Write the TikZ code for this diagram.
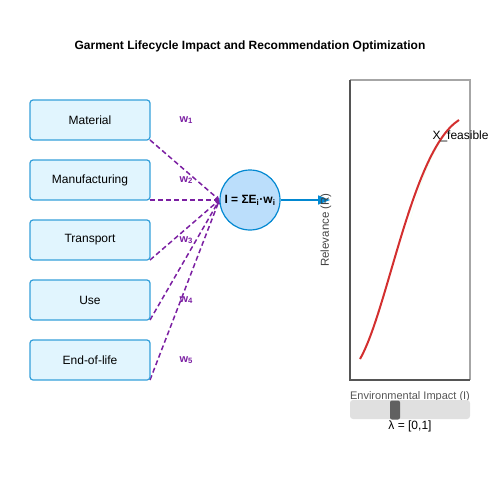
\documentclass[tikz,border=0pt]{standalone}
\usepackage{fontspec}
\setmainfont{Liberation Sans}
\usepackage{tikz}
\usetikzlibrary{shapes,calc,shapes.geometric,arrows.meta,positioning,backgrounds}
\definecolor{stageblue}{HTML}{0288D1}
\definecolor{stagefill}{HTML}{E1F5FE}
\definecolor{hubfill}{HTML}{BBDEFB}
\definecolor{wpurple}{HTML}{7B1FA2}
\definecolor{curvered}{HTML}{D32F2F}
\definecolor{axisgray}{HTML}{555555}

\tikzset{
  stagebox/.style={rectangle, draw=stageblue!80, line width=1.2pt, fill=stagefill, rounded corners=3pt,
    minimum width=120pt, minimum height=40pt, outer sep=0pt, font=\fontsize{12}{14}\selectfont},
  weightlabel/.style={text=wpurple, font=\bfseries\fontsize{11}{13}\selectfont},
  weightline/.style={wpurple, dashed, line width=1.5pt, dash pattern=on 5pt off 3pt, -{Triangle[length=4pt,width=4pt]}},
}

\begin{document}
\begin{tikzpicture}[x=1pt, y=-1pt]
    \useasboundingbox (0,0) rectangle (500,500);

    % Title
    \node[font=\bfseries\fontsize{12}{14}\selectfont] (title) at (250,46) {Garment Lifecycle Impact and Recommendation Optimization};

    % Stages
    \node[stagebox] (material) at (90,120) {Material};
    \node[stagebox, below=20pt of material] (manufacturing) {Manufacturing};
    \node[stagebox, below=20pt of manufacturing] (transport) {Transport};
    \node[stagebox, below=20pt of transport] (use) {Use};
    \node[stagebox, below=20pt of use] (eol) {End-of-life};

    % Weights
    \node[weightlabel, right=26pt of material.east] (w1) {w\textsubscript{1}};
    \node[weightlabel, right=26pt of manufacturing.east] (w2) {w\textsubscript{2}};
    \node[weightlabel, right=26pt of transport.east] (w3) {w\textsubscript{3}};
    \node[weightlabel, right=26pt of use.east] (w4) {w\textsubscript{4}};
    \node[weightlabel, right=26pt of eol.east] (w5) {w\textsubscript{5}};

    % Aggregation
    \node[circle, draw=stageblue, line width=1.2pt, fill=hubfill, minimum size=60pt, inner sep=0pt,
      font=\bfseries\fontsize{12}{14}\selectfont] (hub) at (250,200) {I = ΣE\textsubscript{i}·w\textsubscript{i}};

    \begin{scope}[on background layer]
      \foreach \s in {material, manufacturing, transport, use, eol}
        \draw[weightline] (\s.south east) -- (hub.west);
    \end{scope}

    % Trade-off plot
    \coordinate (plotsw) at (350,380);
    \coordinate (plotne) at (470,80);
    \draw[black!35, line width=1.2pt] (plotsw -| plotne) -- (plotne) -- (plotsw |- plotne);
    \draw[axisgray, line width=1.5pt] (plotsw |- plotne) -- (plotsw) -- (plotsw -| plotne);
    \coordinate (front) at (330,200);
    \draw[stageblue, line width=1.5pt, -{Triangle[length=12pt,width=9pt]}] (hub.east) -- (front);

    \fill[green!40!white, opacity=0.15] (405,240) .. controls (418,190) and (430,155) .. (446,134) -- (440,140) .. controls (425,165) and (415,200) .. (405,240) -- cycle;
    \draw[curvered, line width=2pt] (360,359) .. controls (388,310) and (412,150) .. (459,120);

    \node[anchor=west, font=\fontsize{12}{14}\selectfont] (xfeas) at (429,136) {X\_feasible};
    \node[rotate=90, text=axisgray!80!black, font=\fontsize{11.5}{13}\selectfont] (ylab) at (326,230) {Relevance (R)};
    \node[text=axisgray, font=\fontsize{11}{13}\selectfont] (xlab) at (410,397) {Environmental Impact (I)};

    % Slider
    \draw[fill=black!12, draw=none, rounded corners=3pt] (350,400) rectangle (470,419);
    \node[fill=black!62, rounded corners=2pt, minimum width=10pt, minimum height=19pt, inner sep=0pt] (knob) at (395,410) {};
    \node[font=\fontsize{12}{14}\selectfont] (lambda) at (410,426) {λ = [0,1]};

\end{tikzpicture}
\end{document}
